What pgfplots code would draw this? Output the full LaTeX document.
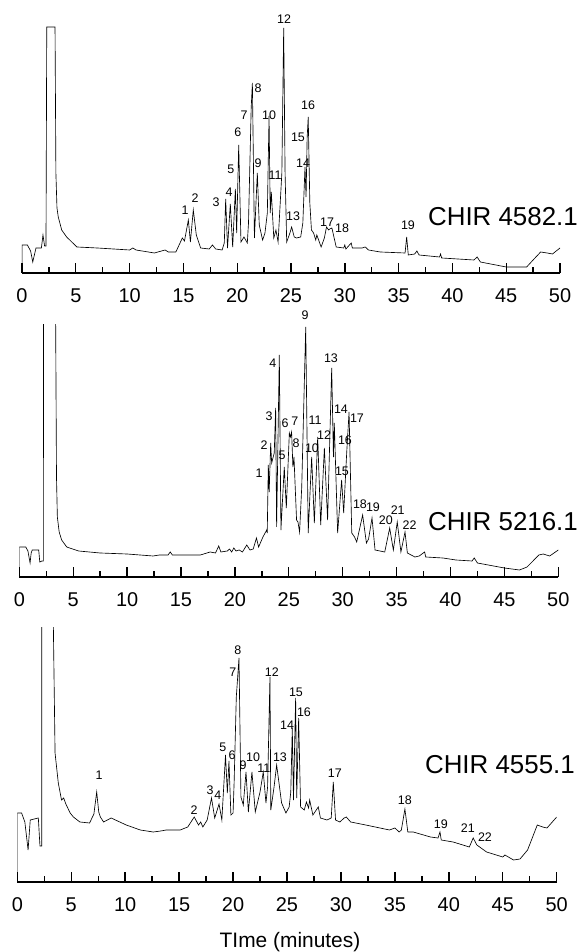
\documentclass[border=0pt]{standalone}
\usepackage{fontspec}
\setmainfont{Liberation Sans}
\usepackage{pgfplots}
\pgfplotsset{compat=1.18}

\pgfplotsset{
  chrom/.style={
    scale only axis,
    xmin=0, xmax=50, ymin=0,
    axis x line=bottom, axis y line=none,
    x axis line style={-, line width=1.4pt},
    xtick={0,5,...,50}, minor xtick={2.5,7.5,...,47.5},
    tick align=inside,
    major tick length=10bp, minor tick length=6bp,
    every tick/.style={black, line width=1.4pt},
    /pgf/number format/assume math mode=true,
    xticklabel style={font=\fontsize{20}{20}\selectfont, anchor=center, yshift=-23bp},
    clip mode=individual,
    anchor=south west,
  },
}
\tikzset{
  trace/.style={black, line width=0.65pt},
  lab/.style={font=\fontsize{12.5}{12.5}\selectfont, inner sep=0pt},
  name/.style={font=\fontsize{26}{26}\selectfont, inner sep=0pt},
}

\begin{document}
\begin{tikzpicture}
\useasboundingbox (0,0) rectangle (583bp,952bp);

% CHIR 4582.1
\begin{axis}[chrom, at={(22bp,679bp)}, width=538bp, height=250bp, ymax=250]
\addplot[trace] coordinates {
(0,0) (0,28) (0.5,28) (0.8,22) (1.0,11) (1.3,25) (1.8,25) (1.95,38) (2.1,27) (2.23,27)
(2.3,246) (3.07,246) (3.15,100) (3.25,65) (3.37,56) (3.69,43) (4.15,36) (5.1,26)
(7,25) (10,23) (10.3,25) (10.6,23) (12.3,20) (13.3,23) (13.6,21) (14.3,21) (14.9,35) (15.1,32)
(15.46,53) (15.65,31) (15.92,63) (16.2,38) (16.6,25) (17.4,24) (17.7,28) (18.0,24) (18.6,23)
(18.8,30) (18.93,74) (19.1,25) (19.36,69) (19.58,26) (19.83,84) (19.95,40) (20.14,128) (20.35,31)
(20.63,36) (20.94,30) (21.05,50) (21.3,165) (21.41,190) (21.6,35) (21.87,100) (22.05,48) (22.36,33)
(22.58,40) (22.8,60) (22.96,157) (23.07,60) (23.17,81) (23.4,35) (23.6,43) (23.8,31) (24.15,100)
(24.32,245) (24.45,100) (24.6,31) (24.9,40) (25.06,46) (25.3,36) (25.5,35) (25.9,36) (26.1,50)
(26.3,106) (26.4,76) (26.5,135) (26.6,156) (26.75,70) (26.9,43) (27.1,40) (27.3,33) (27.4,38)
(27.5,35) (27.8,26) (28.1,35) (28.3,46) (28.5,43) (28.6,44) (28.8,45) (29.2,26) (29.9,25)
(30.0,28) (30.1,24) (30.6,30) (30.7,25) (31.6,25) (31.9,26) (32.2,23) (33.3,21) (35.6,20)
(35.75,36) (35.9,18) (36.5,19) (36.7,22) (36.9,18) (38.8,16) (38.9,19) (39.0,15) (42.0,13)
(42.3,16) (42.6,11) (45.0,6) (46.9,6) (47.5,13) (48.2,21) (48.8,20) (49.3,19) (50,25)
};
\node[lab] at (axis cs:15.15,63) {1};
\node[lab] at (axis cs:16.08,75) {2};
\node[lab] at (axis cs:18.03,71) {3};
\node[lab] at (axis cs:19.24,81) {4};
\node[lab] at (axis cs:19.42,104) {5};
\node[lab] at (axis cs:20.07,141) {6};
\node[lab] at (axis cs:20.63,158) {7};
\node[lab] at (axis cs:21.93,185) {8};
\node[lab] at (axis cs:21.93,110) {9};
\node[lab] at (axis cs:22.96,158) {10};
\node[lab] at (axis cs:23.51,98) {11};
\node[lab] at (axis cs:24.35,254) {12};
\node[lab] at (axis cs:25.19,57) {13};
\node[lab] at (axis cs:26.12,110) {14};
\node[lab] at (axis cs:25.65,136) {15};
\node[lab] at (axis cs:26.58,168) {16};
\node[lab] at (axis cs:28.35,51) {17};
\node[lab] at (axis cs:29.74,45) {18};
\node[lab] at (axis cs:35.87,48) {19};
\node[name] at (axis cs:44.7,56) {CHIR 4582.1};
\end{axis}

% CHIR 5216.1
\begin{axis}[chrom, at={(19.3bp,375bp)}, width=539bp, height=252bp, ymax=252]
\addplot[trace] coordinates {
(0,0) (0,30) (0.6,30) (0.8,26) (1.0,14) (1.1,24) (1.2,27) (1.8,27) (1.9,15) (2.1,16) (2.23,16)
(2.26,400) (3.3,400) (3.45,100) (3.53,60) (3.7,45) (3.93,37) (4.4,30) (5.5,26) (7.5,24)
(10,23) (12.4,21) (13,22) (13.8,22) (14.0,25) (14.2,22) (16.8,22) (17.7,25) (18.2,24) (18.5,31)
(18.7,25) (19.3,26) (19.5,28) (19.7,25) (19.9,29) (20.1,26) (20.4,27) (20.7,25) (21.1,32)
(21.4,27) (21.7,28) (22.0,39) (22.2,30) (22.6,40) (22.95,47) (23.0,44) (23.1,112) (23.18,85)
(23.32,134) (23.41,114) (23.65,124) (23.78,169) (23.87,50) (24.12,222) (24.27,47) (24.58,110)
(24.77,69) (25.05,144) (25.15,140) (25.26,145) (25.38,110) (25.48,120) (25.72,57) (25.85,55)
(26.0,45) (26.2,90) (26.57,250) (26.8,44) (27.12,120) (27.37,54) (27.68,140) (27.96,52)
(28.3,129) (28.6,57) (28.98,209) (29.14,120) (29.22,154) (29.53,44) (29.9,97) (30.09,64)
(30.37,124) (30.59,165) (30.84,44) (31.1,40) (31.3,35) (31.85,62) (32.2,34) (32.4,38)
(32.72,59) (33.0,27) (33.9,25) (34.36,49) (34.7,27) (35.06,55) (35.4,25) (35.78,45) (36.0,24)
(36.7,20) (37.1,21) (37.6,25) (37.7,20) (39.3,19) (40.5,17) (42.0,16) (42.2,19) (42.5,14)
(45,9) (46.4,7) (47.1,10) (48.2,22) (48.6,23) (49.2,21) (50,27)
};
\node[lab] at (axis cs:22.24,104) {1};
\node[lab] at (axis cs:22.70,132) {2};
\node[lab] at (axis cs:23.16,161) {3};
\node[lab] at (axis cs:23.53,214) {4};
\node[lab] at (axis cs:24.37,122) {5};
\node[lab] at (axis cs:24.65,154) {6};
\node[lab] at (axis cs:25.57,156) {7};
\node[lab] at (axis cs:25.67,134) {8};
\node[lab] at (axis cs:26.50,262) {9};
\node[lab] at (axis cs:27.15,129) {10};
\node[lab] at (axis cs:27.43,157) {11};
\node[lab] at (axis cs:28.27,142) {12};
\node[lab] at (axis cs:28.91,219) {13};
\node[lab] at (axis cs:29.84,168) {14};
\node[lab] at (axis cs:29.93,106) {15};
\node[lab] at (axis cs:30.21,137) {16};
\node[lab] at (axis cs:31.32,159) {17};
\node[lab] at (axis cs:31.6,73) {18};
\node[lab] at (axis cs:32.81,70) {19};
\node[lab] at (axis cs:34.0,57) {20};
\node[lab] at (axis cs:35.1,67) {21};
\node[lab] at (axis cs:36.2,52) {22};
\node[name] at (axis cs:44.87,55) {CHIR 5216.1};
\end{axis}

% CHIR 4555.1
\begin{axis}[chrom, at={(17.3bp,70bp)}, width=539.4bp, height=254bp, ymax=254]
\addplot[trace] coordinates {
(0,0) (0,69) (0.4,69) (0.7,60) (1.0,32) (1.2,62) (1.95,64) (2.1,36) (2.26,36) (2.28,400)
(3.25,400) (3.35,250) (3.5,129) (3.8,99) (4.1,82) (4.3,84) (4.5,78) (4.9,69) (5.2,65) (5.8,60)
(6.7,59) (7.1,68) (7.36,90) (7.55,70) (7.7,65) (8.0,60) (8.7,64) (10.1,57) (11.4,52) (12.6,50)
(13.3,51) (13.8,52) (15.1,52) (15.8,55) (16.1,60) (16.4,65) (16.8,57) (17.0,60) (17.2,55)
(17.6,62) (18.0,84) (18.3,64) (18.7,78) (18.96,62) (19.3,127) (19.47,89) (19.62,121) (19.8,67)
(20.0,69) (20.1,100) (20.3,185) (20.55,224) (20.73,85) (20.95,77) (21.0,84) (21.2,110) (21.42,70)
(21.75,110) (22.06,70) (22.5,90) (22.8,110) (23.05,79) (23.2,95) (23.42,205) (23.5,72) (23.8,95)
(24.04,117) (24.5,79) (24.9,69) (25.2,75) (25.35,90) (25.49,154) (25.6,82) (25.8,184) (25.9,84)
(26.08,164) (26.26,75) (26.6,72) (26.8,80) (27.0,74) (27.1,82) (27.4,67) (27.9,75) (28.1,64)
(28.7,62) (29.1,64) (29.29,100) (29.5,62) (29.9,60) (30.3,64) (30.5,65) (30.9,60) (32.3,57)
(34.5,52) (35.0,54) (35.4,50) (35.6,52) (35.93,73) (36.2,50) (36.7,50) (38.3,45) (39.0,44)
(39.18,50) (39.3,42) (40.4,40) (41.9,35) (42.26,44) (42.6,37) (43.5,30) (45,25) (45.2,27)
(46,22) (46.6,23) (47.3,32) (48.2,57) (48.7,55) (49.1,54) (50,65)
};
\node[lab] at (axis cs:7.57,107) {1};
\node[lab] at (axis cs:16.38,72) {2};
\node[lab] at (axis cs:17.86,92) {3};
\node[lab] at (axis cs:18.60,87) {4};
\node[lab] at (axis cs:19.06,135) {5};
\node[lab] at (axis cs:19.9,127) {6};
\node[lab] at (axis cs:19.99,210) {7};
\node[lab] at (axis cs:20.45,232) {8};
\node[lab] at (axis cs:20.92,117) {9};
\node[lab] at (axis cs:21.85,125) {10};
\node[lab] at (axis cs:22.85,114) {11};
\node[lab] at (axis cs:23.6,210) {12};
\node[lab] at (axis cs:24.35,125) {13};
\node[lab] at (axis cs:25.0,157) {14};
\node[lab] at (axis cs:25.83,190) {15};
\node[lab] at (axis cs:26.57,170) {16};
\node[lab] at (axis cs:29.44,109) {17};
\node[lab] at (axis cs:35.93,82) {18};
\node[lab] at (axis cs:39.26,58) {19};
\node[lab] at (axis cs:41.77,54) {21};
\node[lab] at (axis cs:43.35,45) {22};
\node[name] at (axis cs:44.74,117) {CHIR 4555.1};
\end{axis}

\node[font=\fontsize{21}{21}\selectfont] at (290bp,10bp) {TIme (minutes)};
\end{tikzpicture}
\end{document}
